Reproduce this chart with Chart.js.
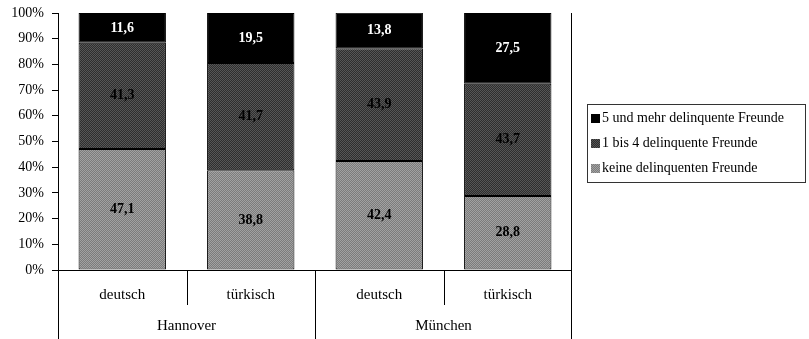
<!DOCTYPE html>
<html>
<head>
<meta charset="utf-8">
<script src="https://cdn.jsdelivr.net/npm/chart.js@4"></script>
<style>
  html, body { margin: 0; padding: 0; background: #fff; }
  #wrap { width: 809px; height: 339px; }
</style>
</head>
<body>
<div id="wrap"><canvas id="c" width="809" height="339"></canvas></div>
<script>
// Anteil der Jugendlichen nach Zahl delinquenter Freunde (in %)
const categories = ['deutsch', 'türkisch', 'deutsch', 'türkisch'];
const groups = ['Hannover', 'München'];
const seriesNames = [
  'keine delinquenten Freunde',
  '1 bis 4 delinquente Freunde',
  '5 und mehr delinquente Freunde'
];
const keineFreunde = [47.1, 38.8, 42.4, 28.8];
const einsBisVier = [41.3, 41.7, 43.9, 43.7];
const fuenfUndMehr = [11.6, 19.5, 13.8, 27.5];
const yTicks = [0, 10, 20, 30, 40, 50, 60, 70, 80, 90, 100];

const FONT = '"Liberation Serif", "Times New Roman", serif';

// fine checkered fills for the grey segments
function checker(a, b) {
  const p = document.createElement('canvas');
  p.width = 2; p.height = 2;
  const g = p.getContext('2d');
  g.fillStyle = a; g.fillRect(0, 0, 2, 2);
  g.fillStyle = b; g.fillRect(0, 0, 1, 1); g.fillRect(1, 1, 1, 1);
  return g.createPattern(p, 'repeat');
}
const ctx = document.getElementById('c').getContext('2d');
const lightFill = checker('#7c7c7c', '#a2a2a2');
const darkFill = checker('#2e2e2e', '#565656');

const fills = [lightFill, darkFill, '#000000'];
const labelColors = ['#000', '#000', '#fff'];
const seriesData = [keineFreunde, einsBisVier, fuenfUndMehr];

const fmt = v => v.toFixed(1).replace('.', ',');

// segment values, group axis lines and the legend box
const extras = {
  id: 'extras',
  afterDatasetsDraw(chart) {
    const c = chart.ctx;
    c.save();
    c.font = 'bold 14px ' + FONT;
    c.textAlign = 'center';
    c.textBaseline = 'middle';
    chart.data.datasets.forEach((ds, di) => {
      chart.getDatasetMeta(di).data.forEach((bar, i) => {
        const yMid = (bar.y + bar.base) / 2;
        c.fillStyle = labelColors[di];
        c.fillText(fmt(ds.data[i]), bar.x, yMid);
      });
    });
    c.restore();
  },
  afterDraw(chart) {
    const c = chart.ctx;
    const x = chart.scales.x;
    const a = chart.chartArea;
    const H = chart.height;
    const step = x.getPixelForValue(1) - x.getPixelForValue(0);
    c.save();
    c.strokeStyle = '#000';
    c.lineWidth = 1;
    const line = (x1, y1, x2, y2) => {
      c.beginPath(); c.moveTo(x1, y1); c.lineTo(x2, y2); c.stroke();
    };
    // left axis reaching down through the label rows, right frame
    line(Math.round(a.left) + 0.5, a.top, Math.round(a.left) + 0.5, H);
    line(Math.round(a.right) - 0.5, a.top, Math.round(a.right) - 0.5, H);
    line(a.left, Math.round(a.bottom) + 0.5, a.right, Math.round(a.bottom) + 0.5);
    // separators between categories
    for (let i = 1; i < categories.length; i++) {
      const sx = Math.round(x.getPixelForValue(i) - step / 2) + 0.5;
      const full = i % 2 === 0;
      line(sx, a.bottom, sx, full ? H : a.bottom + 35);
    }
    // group labels
    c.font = '15px ' + FONT;
    c.fillStyle = '#000';
    c.textAlign = 'center';
    c.textBaseline = 'middle';
    groups.forEach((g, gi) => {
      const cx = (x.getPixelForValue(gi * 2) + x.getPixelForValue(gi * 2 + 1)) / 2;
      c.fillText(g, cx, 326);
    });
    // legend
    const lx = 587, ly = 104, lw = 218, lh = 78;
    c.strokeStyle = '#333';
    c.strokeRect(lx + 0.5, ly + 0.5, lw, lh);
    c.font = '14px ' + FONT;
    c.textAlign = 'left';
    for (let k = 0; k < 3; k++) {
      const si = 2 - k;
      const ry = 118 + k * 25;
      c.fillStyle = fills[si];
      c.fillRect(lx + 4, ry - 4, 9, 9);
      c.fillStyle = '#000';
      c.fillText(chart.data.datasets[si].label, lx + 15, ry);
    }
    c.restore();
  }
};

new Chart(ctx, {
  type: 'bar',
  data: {
    labels: categories,
    datasets: seriesData.map((d, i) => ({
      label: seriesNames[i],
      data: d,
      backgroundColor: fills[i],
      borderColor: '#000',
      borderWidth: 1,
      borderSkipped: false,
      barPercentage: 0.68,
      categoryPercentage: 1.0
    }))
  },
  options: {
    responsive: false,
    animation: false,
    devicePixelRatio: 1,
    layout: { padding: { top: 13, right: 237, left: 0, bottom: 0 } },
    plugins: { legend: { display: false }, tooltip: { enabled: false } },
    scales: {
      x: {
        stacked: true,
        afterFit: s => { s.height = 69; s.paddingLeft = 0; s.paddingRight = 0; },
        grid: { display: false, drawTicks: false },
        border: { display: false },
        ticks: { color: '#000', padding: 16, font: { family: FONT, size: 15 } }
      },
      y: {
        stacked: true,
        min: 0, max: 100,
        afterFit: s => { s.width = 58; s.paddingTop = 0; s.paddingBottom = 0; },
        afterBuildTicks: s => { s.ticks = yTicks.map(v => ({ value: v })); },
        grid: { drawOnChartArea: false, drawTicks: true, tickLength: 6, color: '#000' },
        border: { display: true, color: '#000' },
        ticks: {
          color: '#000', padding: 8,
          font: { family: FONT, size: 14 },
          callback: v => v + '%'
        }
      }
    }
  },
  plugins: [extras]
});
</script>
</body>
</html>
